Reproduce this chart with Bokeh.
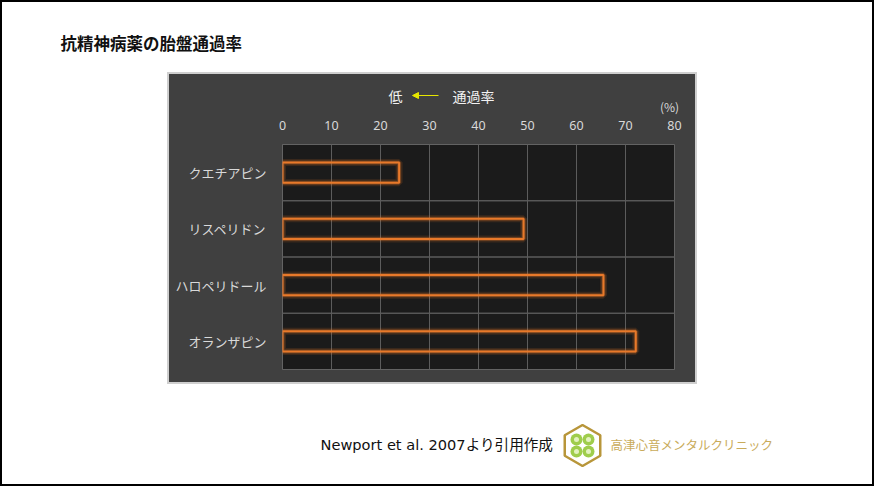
from bokeh.plotting import figure
from bokeh.models import Range1d, FactorRange, Arrow, NormalHead, Spacer, FixedTicker
from bokeh.layouts import column, row
from bokeh.embed import file_html
from bokeh.resources import INLINE
from bokeh.core.properties import value
import numpy as np

# ---- data ----
title_text = "抗精神病薬の胎盤通過率"
drugs = ["クエチアピン", "リスペリドン", "ハロペリドール", "オランザピン"]
rates = [23.8, 49.2, 65.5, 72.1]
x_ticks = [0, 10, 20, 30, 40, 50, 60, 70, 80]
unit_text = "(%)"
low_text = "低"
axis_title = "通過率"
source_note = "Newport et al. 2007より引用作成"
clinic_name = "高津心音メンタルクリニック"

JP = "Noto Sans CJK JP"
W = 870

PANEL = "#404040"
FRAME = "#1b1b1b"
GRID = "#5c5c5c"
ORANGE = "#e8792a"
LABEL = "#d9d9d9"


def blank(width, height, bg="white"):
    f = figure(width=width, height=height, x_range=Range1d(0, width), y_range=Range1d(height, 0),
               output_backend="svg", toolbar_location=None, min_border=0,
               x_axis_location=None, y_axis_location=None)
    f.grid.visible = False
    f.outline_line_color = None
    f.background_fill_color = bg
    f.border_fill_color = bg
    f.frame_align = False
    return f


# ---- header ----
header = blank(W, 70)
header.text(x=[58], y=[40], text=[title_text], text_font=value(JP), text_font_size="16.5px",
            text_font_style="bold", text_baseline="middle", text_align="left", text_color="#111111")

# ---- chart top bar (inside grey panel) ----
PW = 526
topbar = blank(PW, 42, PANEL)
topbar.text(x=[226, 304], y=[21, 21], text=[low_text, axis_title], text_font=value(JP),
            text_font_size="14px", text_color="#f2f2f2", text_align="center", text_baseline="middle")
topbar.text(x=[500], y=[32], text=[unit_text], text_font=value(JP), text_font_size="12px",
            text_color=LABEL, text_align="center", text_baseline="middle")
topbar.add_layout(Arrow(x_start=269, y_start=21, x_end=243, y_end=21,
                        line_color="#e6e600", line_width=1,
                        end=NormalHead(size=6, fill_color="#e6e600", line_color="#e6e600")))

# ---- chart ----
p = figure(width=PW, height=266, y_range=FactorRange(factors=drugs[::-1]), x_range=Range1d(0, 80),
           x_axis_location="above", output_backend="svg", toolbar_location=None,
           min_border_left=113, min_border_right=21, min_border_top=28, min_border_bottom=13)
p.frame_align = False
p.background_fill_color = FRAME
p.border_fill_color = PANEL
p.outline_line_color = "#6a6a6a"
p.outline_line_width = 1

p.xaxis.ticker = FixedTicker(ticks=x_ticks)
p.xaxis.axis_line_color = None
p.xaxis.major_tick_line_color = None
p.xaxis.minor_tick_line_color = None
p.xaxis.major_label_text_color = LABEL
p.xaxis.major_label_text_font = "Noto Sans"
p.xaxis.major_label_text_font_size = "12.5px"
p.xaxis.major_label_standoff = 9

p.yaxis.axis_line_color = None
p.yaxis.major_tick_line_color = None
p.yaxis.major_label_text_color = LABEL
p.yaxis.major_label_text_font = JP
p.yaxis.major_label_text_font_size = "13px"
p.yaxis.major_label_standoff = 10

p.xgrid.ticker = FixedTicker(ticks=x_ticks)
p.xgrid.grid_line_color = GRID
p.ygrid.grid_line_color = None

# category band separators
p.hbar(y=drugs, left=0, right=80, height=1.0, fill_color=None, line_color=GRID, line_width=1)

# bars with glow
p.hbar(y=drugs, left=0, right=rates, height=0.36, fill_color=None, line_color=ORANGE,
       line_alpha=0.15, line_width=7)
p.hbar(y=drugs, left=0, right=rates, height=0.36, fill_color=None, line_color=ORANGE,
       line_alpha=0.3, line_width=4)
p.hbar(y=drugs, left=0, right=rates, height=0.36, fill_color=None,
       line_color=ORANGE, line_width=2)

panel = column(topbar, p)
panel.styles = {"border": "2px solid #cfcfcf", "background-color": PANEL}

# ---- footer ----
footer = blank(W, 100)
footer.text(x=[318], y=[60], text=[source_note], text_font=value("DejaVu Sans, Noto Sans CJK JP"),
            text_font_size="14.6px", text_baseline="middle", text_align="left", text_color="#111111")
footer.scatter(x=[580], y=[61], marker="hex", size=41, angle=np.pi / 2,
               fill_color="white", line_color="#b8963a", line_width=2.5)
footer.scatter(x=[574, 586, 574, 586], y=[55, 55, 67, 67], marker="circle", size=12,
               fill_color="#9fcd4c", line_color=None)
footer.scatter(x=[574, 586, 574, 586], y=[55, 55, 67, 67], marker="circle", size=5,
               fill_color="#e2f2bf", line_color=None)
footer.text(x=[608], y=[60], text=[clinic_name], text_font=value(JP), text_font_size="12.5px",
            text_baseline="middle", text_align="left", text_color="#c9ab5a")

layout = column(header,
                row(Spacer(width=165, height=312), panel, Spacer(width=175, height=312)),
                footer)
layout.styles = {"border": "2px solid #000000"}

open("out.html", "w").write(file_html(layout, INLINE))
